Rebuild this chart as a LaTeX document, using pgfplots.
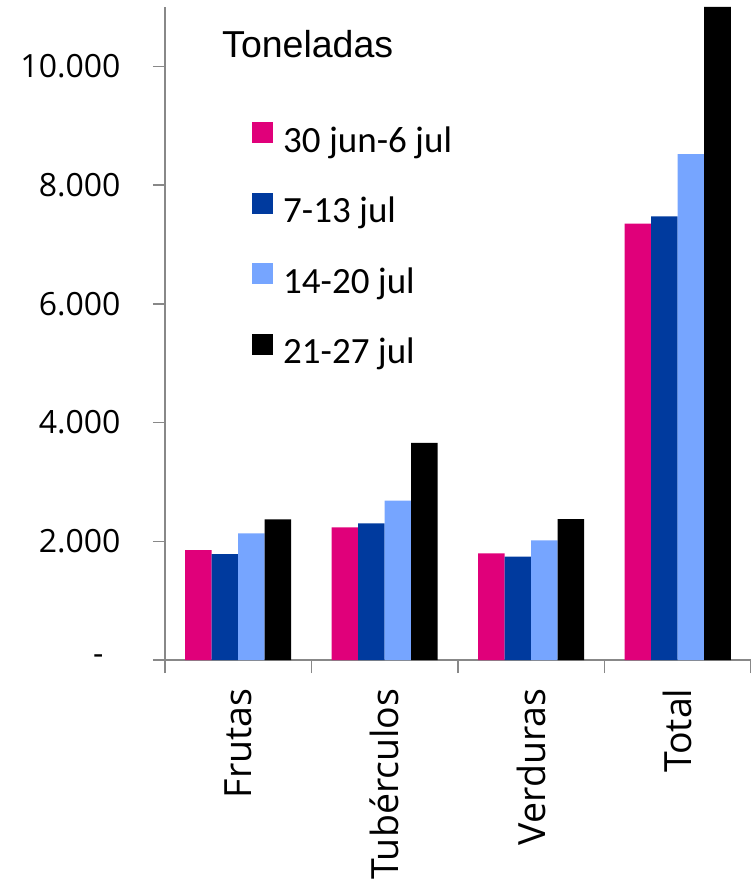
\documentclass[border=0pt]{standalone}
\usepackage{pgfplots}
\pgfplotsset{compat=1.18}
\usepackage{fontspec}
\setmainfont{Open Sans}
\newfontfamily\carlito{Carlito}
\newfontfamily\arial{Liberation Sans}
\definecolor{semA}{HTML}{E0007A}
\definecolor{semB}{HTML}{003A9E}
\definecolor{semC}{HTML}{76A5FF}
\definecolor{semD}{HTML}{000000}
\definecolor{axgray}{HTML}{888888}
\pgfplotsset{sq/.style={legend image code/.code={\fill[##1] (0pt,0pt) rectangle (21pt,21pt);}}}
\begin{document}
\begin{tikzpicture}
\begin{axis}[
    name=ax,
    ybar=0pt,
    bar width=26.5pt,
    scale only axis,
    width=586pt, height=653pt,
    xmin=-0.5, xmax=3.5,
    ymin=0, ymax=11000,
    axis x line=bottom, axis y line=left,
    axis line style={draw=axgray, line width=1.5pt, -},
    tick style={draw=axgray, line width=1.5pt},
    tick align=outside,
    xtick={0,1,2,3},
    xticklabels={Frutas, Tubérculos, Verduras, Total},
    major x tick style={draw=none},
    minor xtick={-0.5,0.5,1.5,2.5,3.5},
    minor tick length=13pt,
    major tick length=12pt,
    ytick={0,2000,4000,6000,8000,10000},
    yticklabels={-\hspace*{17pt}, 2.000, 4.000, 6.000, 8.000, 10.000},
    xticklabel style={font=\fontsize{37.5}{37.5}\selectfont, rotate=90, anchor=east},
    xticklabel shift=13pt,
    yticklabel style={font=\fontsize{32}{32}\selectfont},
    yticklabel shift=29pt,
    legend style={draw=none, fill=none, at={(axis description cs:0.1485,0.8239)}, anchor=north west,
        inner sep=0pt, row sep=32.5pt, column sep=10pt,
        nodes={inner sep=0pt, text height=26pt, text depth=8pt, font=\carlito\fontsize{37}{37}\selectfont}},
    legend cell align=left,
]
\addplot[fill=semA, draw=none, sq] coordinates {(0,1849) (1,2235) (2,1798) (3,7350)};
\addplot[fill=semB, draw=none, sq] coordinates {(0,1782) (1,2303) (2,1743) (3,7474)};
\addplot[fill=semC, draw=none, sq] coordinates {(0,2134) (1,2684) (2,2017) (3,8521)};
\addplot[fill=semD, draw=none, sq] coordinates {(0,2370) (1,3659) (2,2375) (3,11000)};
\legend{30 jun-6 jul, 7-13 jul, 14-20 jul, 21-27 jul}
\node[anchor=base west, inner sep=0pt, font=\arial\fontsize{37.5}{37.5}\selectfont] at (axis description cs:0.0973,0.9219) {Toneladas};
\end{axis}
\pgfresetboundingbox
\path ([xshift=-165pt,yshift=-219pt]ax.south west) rectangle ([yshift=7pt]ax.north east);
\end{tikzpicture}
\end{document}
